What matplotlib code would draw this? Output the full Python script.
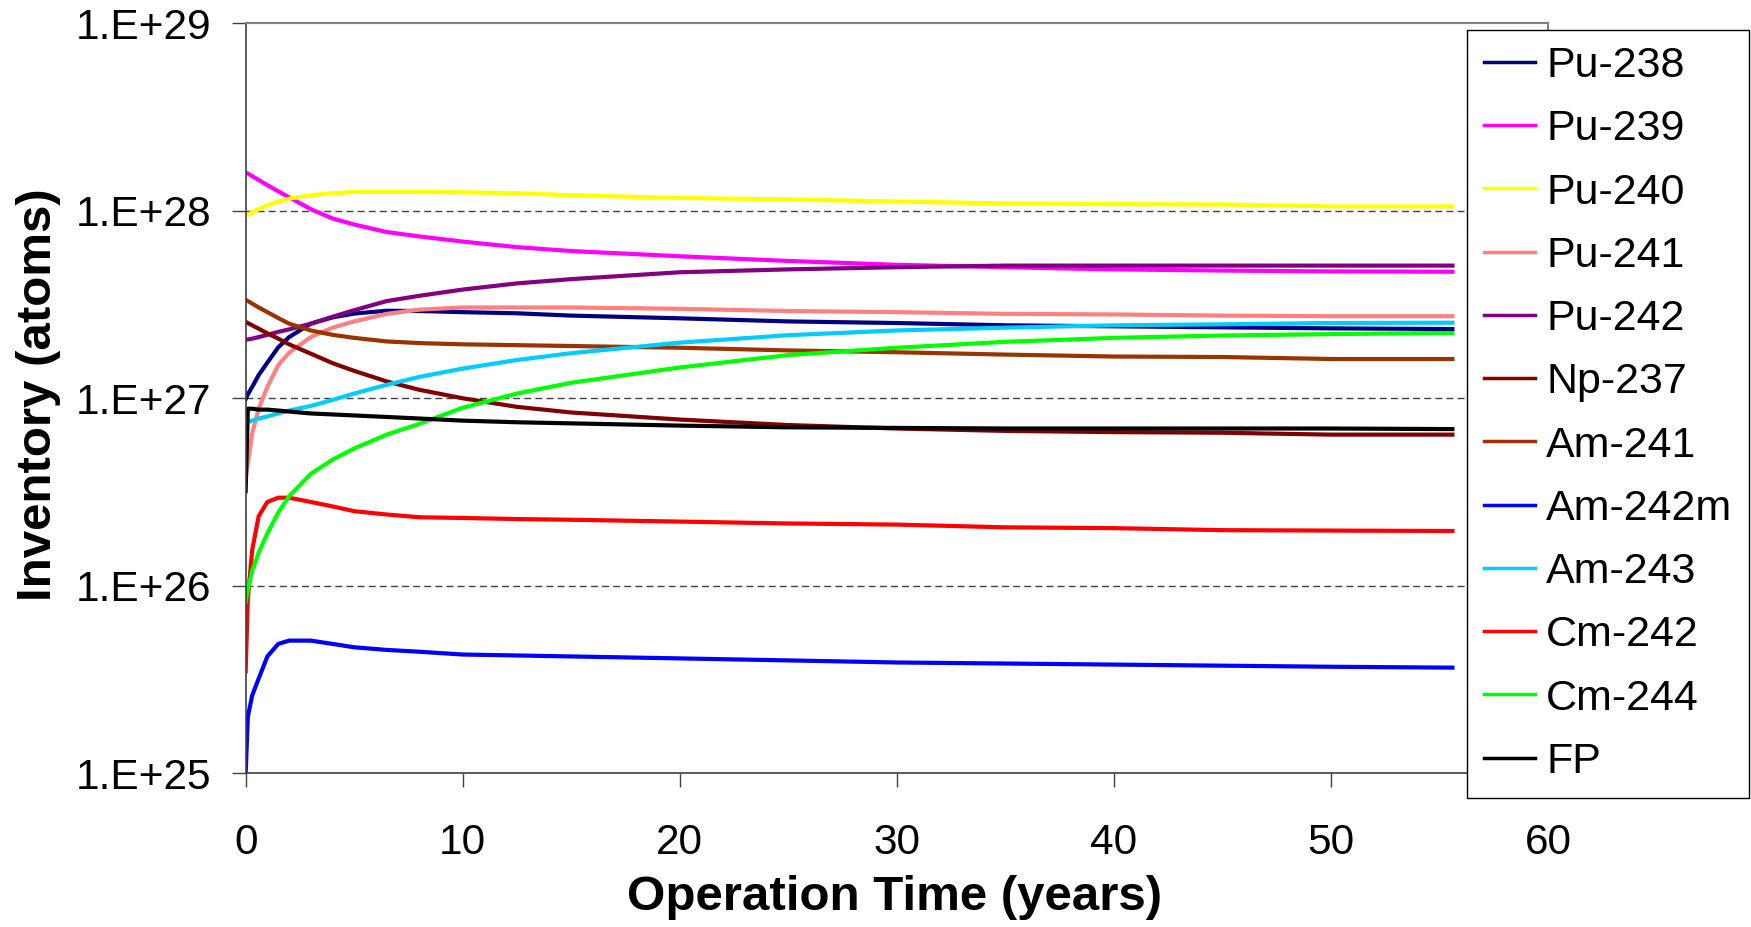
import numpy as np
import matplotlib
matplotlib.use("Agg")
import matplotlib.pyplot as plt
from matplotlib.ticker import FixedLocator, FuncFormatter

plt.rcParams['font.family'] = ['Liberation Sans', 'DejaVu Sans']

# operation time (years)
years = [0, 0.1, 0.3, 0.6, 1, 1.5, 2, 3, 4, 5, 6.5, 8, 10, 12.5, 15, 20, 25, 30, 35, 40, 45, 50, 55.6]

# inventories (atoms)
pu238 = [0.99e27, 1.05e27, 1.15e27, 1.33e27, 1.55e27, 1.87e27, 2.12e27, 2.50e27, 2.70e27, 2.83e27, 2.93e27, 2.92e27,
         2.88e27, 2.84e27, 2.76e27, 2.67e27, 2.57e27, 2.52e27, 2.45e27, 2.42e27, 2.39e27, 2.36e27, 2.34e27]
pu239 = [1.60e28, 1.58e28, 1.53e28, 1.46e28, 1.37e28, 1.27e28, 1.18e28, 1.02e28, 0.91e28, 0.845e28, 0.77e28, 0.73e28,
         0.685e28, 0.64e28, 0.61e28, 0.572e28, 0.54e28, 0.515e28, 0.50e28, 0.487e28, 0.48e28, 0.475e28, 0.473e28]
pu240 = [0.94e28, 0.95e28, 0.98e28, 1.02e28, 1.07e28, 1.12e28, 1.16e28, 1.21e28, 1.24e28, 1.26e28, 1.26e28, 1.26e28,
         1.255e28, 1.24e28, 1.21e28, 1.17e28, 1.15e28, 1.12e28, 1.095e28, 1.085e28, 1.08e28, 1.055e28, 1.055e28]
pu241 = [0.38e27, 0.45e27, 0.65e27, 0.88e27, 1.15e27, 1.50e27, 1.75e27, 2.12e27, 2.38e27, 2.57e27, 2.82e27, 2.97e27,
         3.05e27, 3.05e27, 3.05e27, 3.0e27, 2.92e27, 2.88e27, 2.82e27, 2.80e27, 2.76e27, 2.74e27, 2.74e27]
pu242 = [2.05e27, 2.06e27, 2.08e27, 2.12e27, 2.18e27, 2.26e27, 2.33e27, 2.50e27, 2.72e27, 2.95e27, 3.30e27, 3.52e27,
         3.80e27, 4.10e27, 4.32e27, 4.70e27, 4.87e27, 5.0e27, 5.1e27, 5.1e27, 5.1e27, 5.1e27, 5.1e27]
np237 = [2.56e27, 2.52e27, 2.45e27, 2.35e27, 2.22e27, 2.08e27, 1.94e27, 1.73e27, 1.54e27, 1.40e27, 1.23e27, 1.11e27,
         1.0e27, 0.90e27, 0.84e27, 0.77e27, 0.72e27, 0.69e27, 0.67e27, 0.66e27, 0.655e27, 0.64e27, 0.64e27]
am241 = [3.35e27, 3.30e27, 3.20e27, 3.05e27, 2.88e27, 2.68e27, 2.50e27, 2.30e27, 2.18e27, 2.10e27, 2.01e27, 1.97e27,
         1.94e27, 1.92e27, 1.90e27, 1.86e27, 1.80e27, 1.76e27, 1.71e27, 1.67e27, 1.66e27, 1.62e27, 1.62e27]
am242m = [1.0e25, 2.0e25, 2.6e25, 3.2e25, 4.2e25, 4.9e25, 5.1e25, 5.1e25, 4.9e25, 4.7e25, 4.55e25, 4.45e25,
          4.3e25, 4.25e25, 4.2e25, 4.1e25, 4.0e25, 3.9e25, 3.85e25, 3.8e25, 3.75e25, 3.7e25, 3.66e25]
am243 = [0.74e27, 0.75e27, 0.76e27, 0.78e27, 0.80e27, 0.83e27, 0.86e27, 0.91e27, 0.98e27, 1.06e27, 1.18e27, 1.30e27,
         1.44e27, 1.60e27, 1.74e27, 1.98e27, 2.17e27, 2.30e27, 2.38e27, 2.45e27, 2.48e27, 2.52e27, 2.53e27]
cm242 = [0.35e26, 0.85e26, 1.55e26, 2.35e26, 2.8e26, 2.95e26, 2.95e26, 2.8e26, 2.65e26, 2.5e26, 2.4e26, 2.32e26,
         2.3e26, 2.27e26, 2.25e26, 2.2e26, 2.15e26, 2.12e26, 2.05e26, 2.03e26, 1.98e26, 1.97e26, 1.96e26]
cm244 = [0.82e26, 0.95e26, 1.2e26, 1.5e26, 1.9e26, 2.45e26, 3.0e26, 3.95e26, 4.7e26, 5.4e26, 6.4e26, 7.3e26,
         8.9e26, 10.6e26, 12.1e26, 14.6e26, 17.0e26, 18.6e26, 20.0e26, 21.0e26, 21.6e26, 22.0e26, 22.3e26]
fp = [0.32e27, 0.88e27, 0.88e27, 0.87e27, 0.87e27, 0.86e27, 0.85e27, 0.83e27, 0.82e27, 0.81e27, 0.795e27, 0.78e27,
      0.76e27, 0.745e27, 0.735e27, 0.715e27, 0.70e27, 0.695e27, 0.69e27, 0.69e27, 0.69e27, 0.69e27, 0.685e27]

names = ["Pu-238", "Pu-239", "Pu-240", "Pu-241", "Pu-242", "Np-237", "Am-241", "Am-242m", "Am-243", "Cm-242", "Cm-244", "FP"]
series = [pu238, pu239, pu240, pu241, pu242, np237, am241, am242m, am243, cm242, cm244, fp]
colors = ["#000080", "#FF00FF", "#FFFF00", "#FF8080", "#800080", "#800000", "#993300", "#0000FF", "#00CCFF",
          "#FF0000", "#00FF00", "#000000"]

fig = plt.figure(figsize=(17.51, 9.27), dpi=100)
ax = fig.add_axes([0.1403, 0.1658, 0.7437, 0.8091])

for vals, name, c in zip(series, names, colors):
    ax.plot(years, vals, color=c, lw=3, label=name)

ax.set_yscale("log")
ax.set_ylim(1e25, 1e29)
ax.set_xlim(0, 60)
ax.xaxis.set_major_locator(FixedLocator([0, 10, 20, 30, 40, 50, 60]))
ax.yaxis.set_major_locator(FixedLocator([1e25, 1e26, 1e27, 1e28, 1e29]))
ax.yaxis.set_minor_locator(FixedLocator([]))
ax.yaxis.set_major_formatter(FuncFormatter(lambda v, p: "1.E+%d" % round(np.log10(v))))

for y in [1e26, 1e27, 1e28]:
    ax.axhline(y, color="#404040", lw=1, ls=(0, (5, 3)), zorder=0)

ax.tick_params(axis="both", direction="out", length=10, width=1, color="#404040", labelsize=30.5)
ax.tick_params(axis="x", pad=26)
ax.tick_params(axis="y", pad=15)

for s in ["left", "bottom"]:
    ax.spines[s].set_color("#404040")
    ax.spines[s].set_linewidth(1.2)
for s in ["top", "right"]:
    ax.spines[s].set_color("#808080")
    ax.spines[s].set_linewidth(1.5)

fig.text(0.511, 0.032, "Operation Time (years)", ha="center", va="center", fontsize=35.5, fontweight="bold")
fig.text(0.022, 0.574, "Inventory (atoms)", ha="center", va="center", rotation=90, fontsize=35.5, fontweight="bold")

leg = fig.legend(loc="upper left", bbox_to_anchor=(0.838, 0.968), fontsize=31, frameon=True, fancybox=False,
                 framealpha=1, edgecolor="black", handlelength=1.2, handletextpad=0.25, labelspacing=0.54,
                 borderpad=0.38, borderaxespad=0)
leg.get_frame().set_linewidth(1)
for line in leg.get_lines():
    line.set_linewidth(2.5)

fig.savefig("out.png", dpi=100)
